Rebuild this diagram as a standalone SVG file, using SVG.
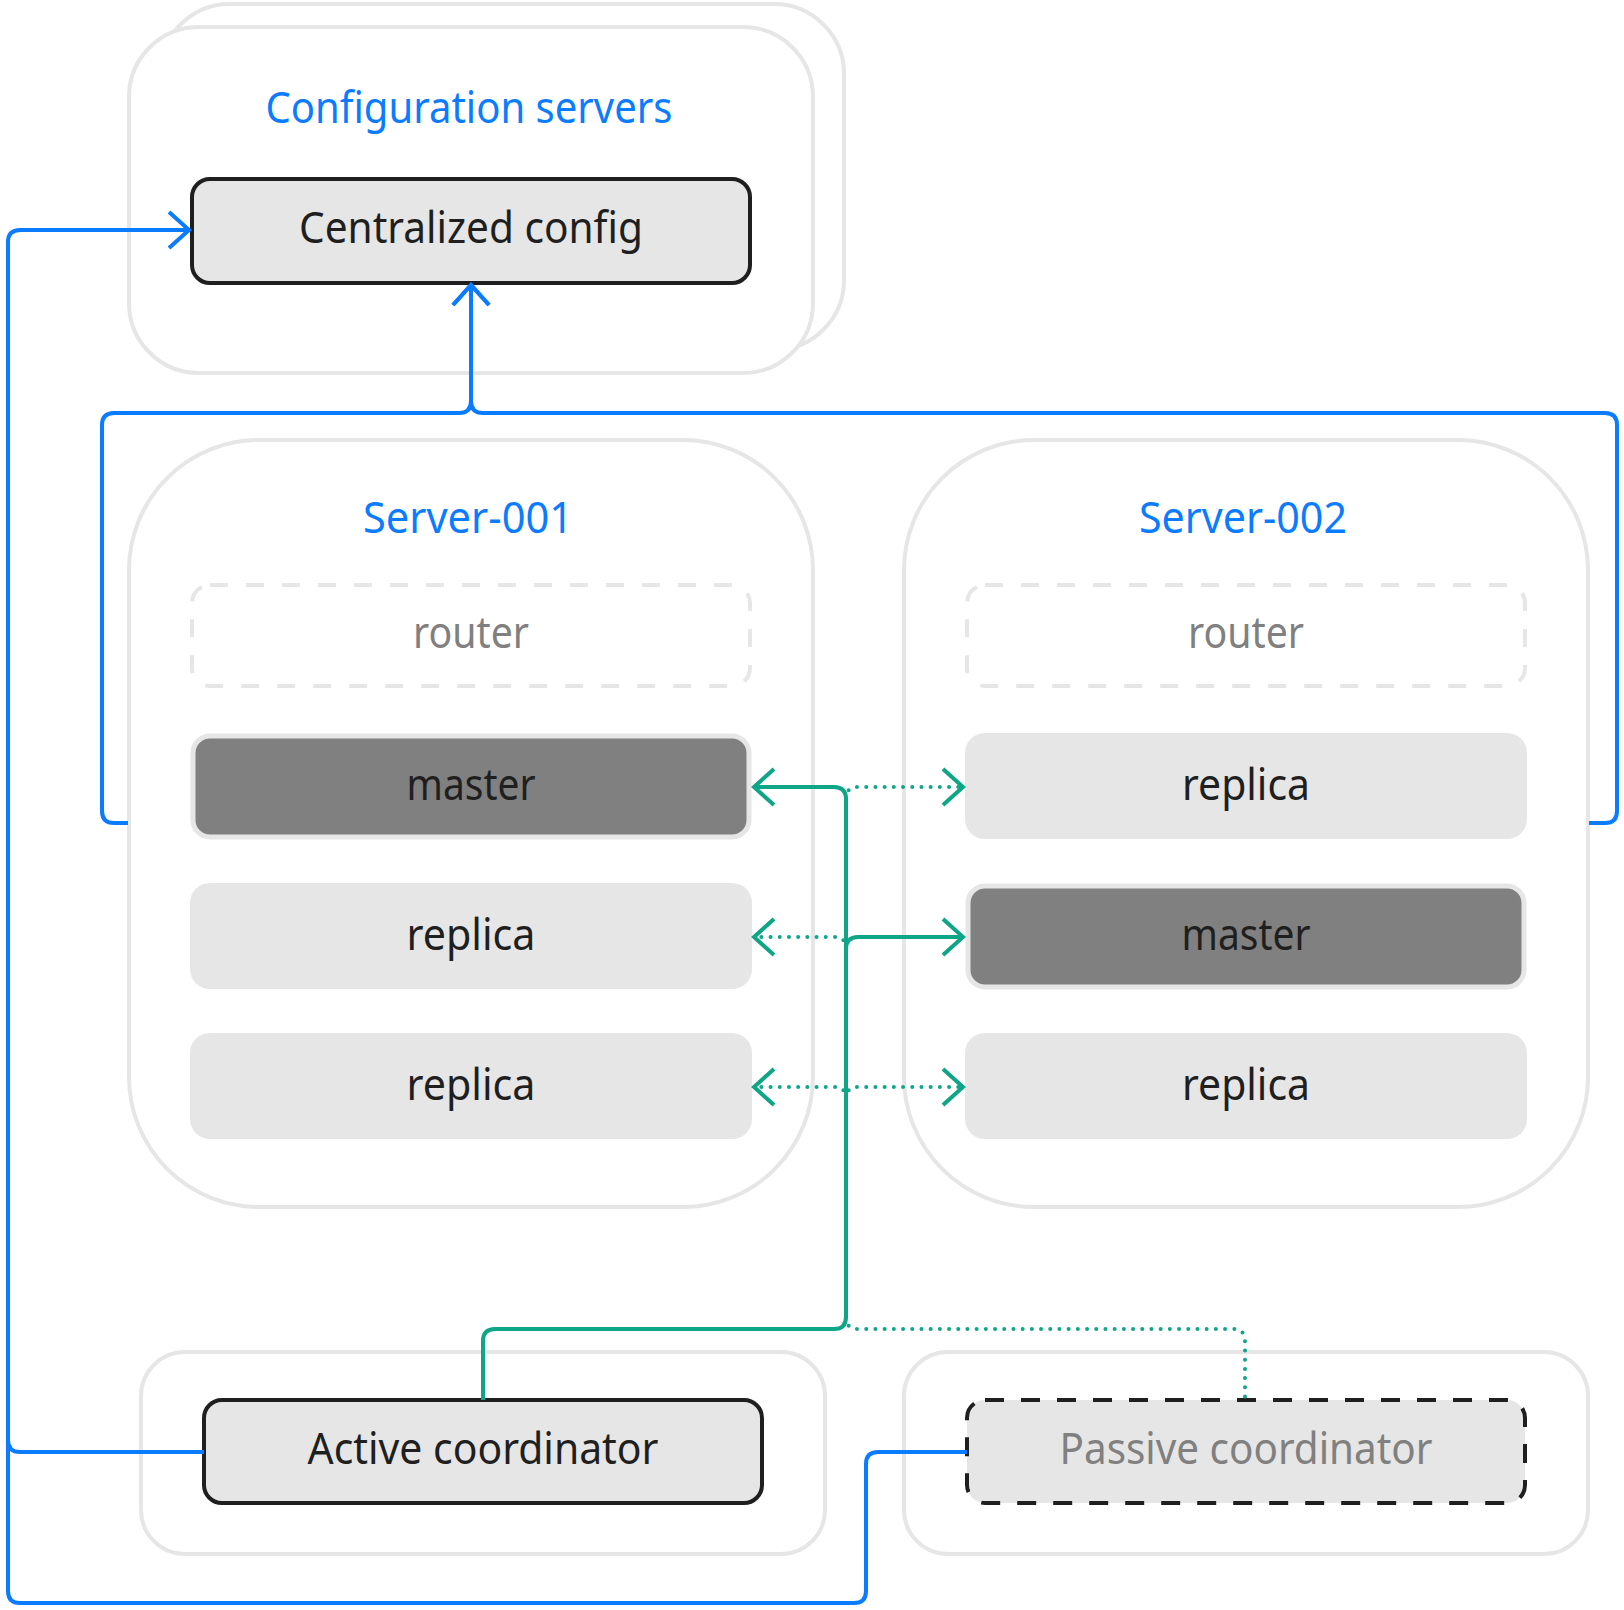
<svg xmlns="http://www.w3.org/2000/svg" width="1624" height="1610" viewBox="0 0 1624 1610">
<style>
.container{fill:#fff;stroke:#e6e6e6;stroke-width:4}
.box{fill:#e6e6e6}
.boxb{fill:#e6e6e6;stroke:#1f1f1f;stroke-width:4}
.router{fill:none;stroke:#e6e6e6;stroke-width:4;stroke-dasharray:18 18}
.master{fill:#808080;stroke:#e6e6e6;stroke-width:5}
.passive{fill:#e6e6e6;stroke:#1f1f1f;stroke-width:4;stroke-dasharray:19 17}
text{font-family:"Noto Sans","Open Sans",sans-serif;font-size:44px;text-anchor:middle}
.title{fill:#0b7cff}
.dark{fill:#1f1f1f}
.gray{fill:#808080}
.blue{fill:none;stroke:#0b7cff;stroke-width:4}
.teal{fill:none;stroke:#0ea687;stroke-width:4}
.dot{fill:none;stroke:#0ea687;stroke-width:4;stroke-dasharray:0 9.2;stroke-linecap:round}
</style>
<defs>
<marker id="arrBlue" markerUnits="userSpaceOnUse" viewBox="-26 -24 30 48" markerWidth="30" markerHeight="48" refX="0" refY="0" orient="auto" overflow="visible">
<path d="M-20,-18 L0,0 L-20,18" fill="none" stroke="#0b7cff" stroke-width="4"/>
</marker>
<marker id="arrTeal" markerUnits="userSpaceOnUse" viewBox="-26 -24 30 48" markerWidth="30" markerHeight="48" refX="0" refY="0" orient="auto" overflow="visible">
<path d="M-20,-18 L0,0 L-20,18" fill="none" stroke="#0ea687" stroke-width="4"/>
</marker>
</defs>

<g id="config-servers">
<rect class="container" x="160" y="4" width="684" height="346" rx="70" ry="70"/>
<rect class="container" x="129" y="27" width="684" height="346" rx="70" ry="70"/>
<text class="title" x="469" y="123" textLength="407" lengthAdjust="spacingAndGlyphs">Configuration servers</text>
</g>
<g id="centralized-config">
<rect class="boxb" x="192" y="179" width="558" height="104" rx="18"/>
<text class="dark" x="471" y="243" textLength="344" lengthAdjust="spacingAndGlyphs">Centralized config</text>
</g>

<g id="server-001">
<rect class="container" x="129" y="440" width="684" height="767" rx="130" ry="130"/>
<text class="title" x="468" y="533" textLength="210" lengthAdjust="spacingAndGlyphs">Server-001</text>
</g>
<g id="s1-router">
<rect class="router" x="192" y="585" width="558" height="101" rx="18"/>
<text class="gray" x="471" y="648" textLength="116" lengthAdjust="spacingAndGlyphs">router</text>
</g>
<g id="s1-master">
<rect class="master" x="193" y="736" width="556" height="101" rx="17"/>
<text class="dark" x="471" y="800" textLength="129" lengthAdjust="spacingAndGlyphs">master</text>
</g>
<g id="s1-replica-1">
<rect class="box" x="190" y="883" width="562" height="106" rx="20"/>
<text class="dark" x="471" y="950" textLength="129" lengthAdjust="spacingAndGlyphs">replica</text>
</g>
<g id="s1-replica-2">
<rect class="box" x="190" y="1033" width="562" height="106" rx="20"/>
<text class="dark" x="471" y="1100" textLength="129" lengthAdjust="spacingAndGlyphs">replica</text>
</g>

<g id="server-002">
<rect class="container" x="904" y="440" width="684" height="767" rx="130" ry="130"/>
<text class="title" x="1243" y="533" textLength="208" lengthAdjust="spacingAndGlyphs">Server-002</text>
</g>
<g id="s2-router">
<rect class="router" x="967" y="585" width="558" height="101" rx="18"/>
<text class="gray" x="1246" y="648" textLength="116" lengthAdjust="spacingAndGlyphs">router</text>
</g>
<g id="s2-replica-1">
<rect class="box" x="965" y="733" width="562" height="106" rx="20"/>
<text class="dark" x="1246" y="800" textLength="128" lengthAdjust="spacingAndGlyphs">replica</text>
</g>
<g id="s2-master">
<rect class="master" x="968" y="886" width="556" height="101" rx="17"/>
<text class="dark" x="1246" y="950" textLength="129" lengthAdjust="spacingAndGlyphs">master</text>
</g>
<g id="s2-replica-2">
<rect class="box" x="965" y="1033" width="562" height="106" rx="20"/>
<text class="dark" x="1246" y="1100" textLength="128" lengthAdjust="spacingAndGlyphs">replica</text>
</g>

<g id="active-container">
<rect class="container" x="141" y="1352" width="684" height="202" rx="44" ry="44"/>
</g>
<g id="active-coordinator">
<rect class="boxb" x="204" y="1400" width="558" height="103" rx="18"/>
<text class="dark" x="483" y="1464" textLength="351" lengthAdjust="spacingAndGlyphs">Active coordinator</text>
</g>
<g id="passive-container">
<rect class="container" x="904" y="1352" width="684" height="202" rx="44" ry="44"/>
</g>
<g id="passive-coordinator">
<rect class="passive" x="967" y="1400" width="558" height="103" rx="18"/>
<text class="gray" x="1246" y="1464" textLength="373" lengthAdjust="spacingAndGlyphs">Passive coordinator</text>
</g>

<g id="connectors">
<path class="blue" d="M128,823 H114 Q102,823 102,811 V425 Q102,413 114,413 H459 Q471,413 471,401 V285" marker-end="url(#arrBlue)"/>
<path class="blue" d="M1589,823 H1605 Q1617,823 1617,811 V425 Q1617,413 1605,413 H483 Q471,413 471,401 V285" marker-end="url(#arrBlue)"/>
<path class="blue" d="M204,1452 H20 Q8,1452 8,1440 V242 Q8,230 20,230 H189" marker-end="url(#arrBlue)"/>
<path class="blue" d="M967,1452 H878 Q866,1452 866,1464 V1591 Q866,1603 854,1603 H20 Q8,1603 8,1591 V1440"/>

<path class="teal" d="M483,1400 V1341 Q483,1329 495,1329 H834 Q846,1329 846,1317 V799 Q846,787 834,787 H754" marker-end="url(#arrTeal)"/>
<path class="teal" d="M846,1317 V949 Q846,937 858,937 H963" marker-end="url(#arrTeal)"/>
<path class="dot" d="M846,799 Q846,787 858,787 H963" marker-end="url(#arrTeal)"/>
<path class="dot" d="M846,949 Q846,937 834,937 H754" marker-end="url(#arrTeal)"/>
<path class="dot" d="M846,1099 Q846,1087 834,1087 H754" marker-end="url(#arrTeal)"/>
<path class="dot" d="M846,1099 Q846,1087 858,1087 H963" marker-end="url(#arrTeal)"/>
<path class="dot" d="M846,1317 Q846,1329 858,1329 H1233 Q1245,1329 1245,1341 V1400"/>
</g>
</svg>
